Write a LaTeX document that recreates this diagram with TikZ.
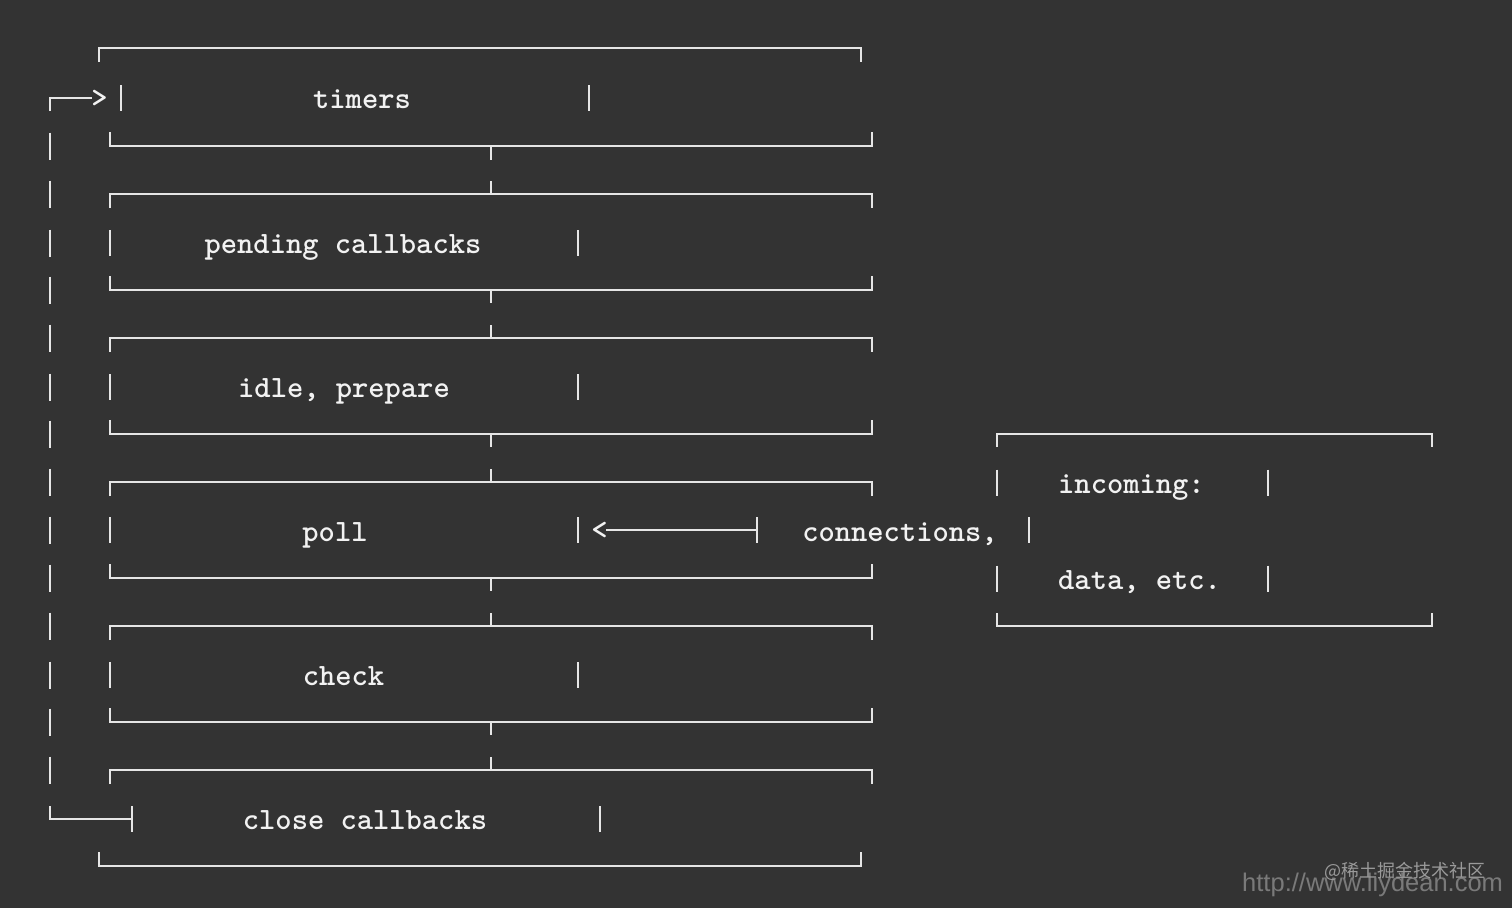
\documentclass[tikz,border=0pt]{standalone}
\usepackage{fontspec}
\newfontfamily\cjk{Noto Sans CJK SC}
\newfontfamily\wmfont{Liberation Sans}
\definecolor{bgc}{HTML}{333333}
\definecolor{lnc}{HTML}{E6E6E6}
\definecolor{txc}{HTML}{F2F2F2}
\definecolor{wmc}{HTML}{7A7A7A}
\definecolor{wmcb}{HTML}{9A9A9A}
\tikzset{
  boxline/.style={draw=lnc, line width=2pt},
  barline/.style={draw=lnc, line width=1.6pt},
  lbl/.style={text=txc, font=\ttfamily\bfseries\fontsize{31}{31}\selectfont, inner sep=0pt, anchor=mid},
  lblw/.style={lbl, anchor=mid west},
}
\begin{document}
\begin{tikzpicture}[x=1pt,y=-1pt]
\fill[bgc] (0,0) rectangle (1512,908);
\useasboundingbox (0,0) rectangle (1512,908);

% ---- timers box
\draw[boxline] (99,62) -- (99,48) -- (861,48) -- (861,62);
\draw[boxline] (110,132) -- (110,146) -- (872,146) -- (872,132);
\draw[boxline] (491,146) -- (491,160);
\draw[barline] (121,85) -- (121,111);
\draw[barline] (589,85) -- (589,111);
\node[lbl] (timers) at (362,106) {timers};

% ---- middle boxes
\foreach \T/\B in {194/290, 338/434, 482/578, 626/722}{
  \draw[boxline] (491,\T-13) -- (491,\T);
  \draw[boxline] (110,\T+14) -- (110,\T) -- (872,\T) -- (872,\T+14);
  \draw[boxline] (110,\B-14) -- (110,\B) -- (872,\B) -- (872,\B-14);
  \draw[boxline] (491,\B) -- (491,\B+13);
}
\foreach \R in {243,387,530,675}{
  \draw[barline] (110,\R-13) -- (110,\R+13);
  \draw[barline] (578,\R-13) -- (578,\R+13);
}
\node[lbl] (pending) at (343,251) {pending callbacks};
\node[lbl] (idle) at (344,395) {idle, prepare};
\node[lbl] (poll) at (335,539) {poll};
\node[lbl] (check) at (343.5,683) {check};

% ---- close callbacks box
\draw[boxline] (491,757) -- (491,770);
\draw[boxline] (110,784) -- (110,770) -- (872,770) -- (872,784);
\draw[boxline] (99,852) -- (99,866) -- (861,866) -- (861,852);
\draw[barline] (600,806) -- (600,832);
\node[lbl] (close) at (365,827) {close callbacks};

% ---- loop line on the left
\draw[boxline] (50,111) -- (50,98) -- (92,98);
\node[lbl] (gt) at (99.5,105) {>};
\foreach \R in {146,194,243,290,338,387,434,482,530,578,626,675,722,770}{
  \draw[barline] (50,\R-13.5) -- (50,\R+13.5);
}
\draw[boxline] (50,806) -- (50,819) -- (132,819);
\draw[barline] (132,806) -- (132,832);

% ---- poll arrow
\node[lbl] (lt) at (599.5,537) {<};
\draw[boxline] (606,530) -- (757,530);
\draw[barline] (757,517) -- (757,543);
\node[lbl] (conn) at (900,539) {connections,};
\draw[barline] (1029,517) -- (1029,543);

% ---- incoming box
\draw[boxline] (997,447) -- (997,434) -- (1432,434) -- (1432,447);
\draw[boxline] (997,613) -- (997,626) -- (1432,626) -- (1432,613);
\foreach \R in {482.5,578.5}{
  \draw[barline] (997,\R-13) -- (997,\R+13);
  \draw[barline] (1268,\R-13) -- (1268,\R+13);
}
\node[lblw] (incoming) at (1058,491) {incoming:};
\node[lblw] (data) at (1058,587) {data, etc.};

% ---- watermark
\node[text=wmc, font=\wmfont\fontsize{25.5}{25.5}\selectfont, inner sep=0pt, anchor=base west] (url) at (1242,891) {http://www.liydean.com};
\node[text=wmcb, font=\cjk\fontsize{18}{18}\selectfont, inner sep=0pt, anchor=west] (juejin) at (1324,871.5) {@稀土掘金技术社区};
\end{tikzpicture}
\end{document}
